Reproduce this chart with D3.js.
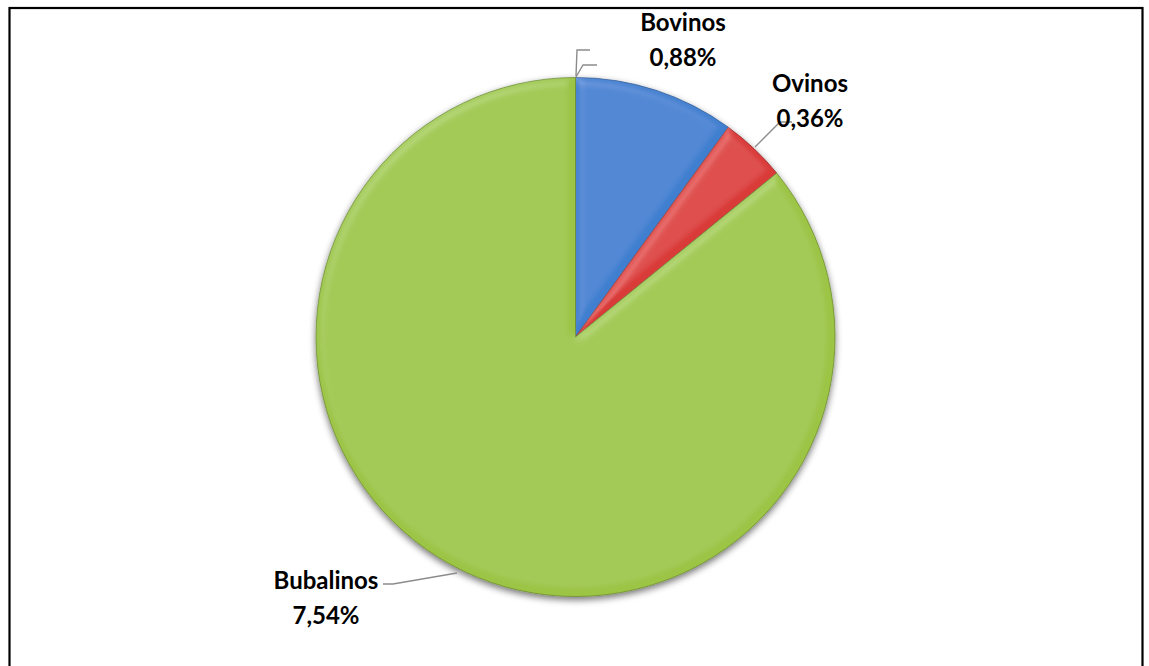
<!DOCTYPE html>
<html>
<head>
<meta charset="utf-8">
<script src="https://cdn.jsdelivr.net/npm/d3@7"></script>
<style>
  body { margin: 0; background: #fff; }
  text { font-family: Lato, "Open Sans", sans-serif; font-weight: bold; fill: #000; }
</style>
</head>
<body>
<svg id="chart"></svg>
<script>
const categories = ["Bovinos", "Ovinos", "Bubalinos"];
const values = [0.88, 0.36, 7.54];
const labels = ["0,88%", "0,36%", "7,54%"];
const colors = ["#3f7fcf", "#d93a38", "#9cc445"];
const edgeColors = ["#2c5d99", "#9a2a28", "#6f8f2c"];

const width = 1149, height = 666;
const cx = 575.5, cy = 337, radius = 259.5;

const svg = d3.select("#chart")
    .attr("width", width)
    .attr("height", height);

// frame
svg.append("rect")
    .attr("x", 9.5).attr("y", 8)
    .attr("width", 1133).attr("height", 680)
    .attr("fill", "none")
    .attr("stroke", "#000")
    .attr("stroke-width", 2.2);

const defs = svg.append("defs");

// soft shadow under the pie
const shadow = defs.append("filter").attr("id", "shadow")
    .attr("x", "-10%").attr("y", "-10%").attr("width", "120%").attr("height", "120%");
shadow.append("feGaussianBlur").attr("in", "SourceAlpha").attr("stdDeviation", 3.5).attr("result", "b");
shadow.append("feOffset").attr("in", "b").attr("dx", 0).attr("dy", 3).attr("result", "o");
shadow.append("feComponentTransfer").attr("in", "o").attr("result", "s")
    .append("feFuncA").attr("type", "linear").attr("slope", 0.55);
const sm = shadow.append("feMerge");
sm.append("feMergeNode").attr("in", "s");
sm.append("feMergeNode").attr("in", "SourceGraphic");

// bevel on each slice
const bevel = defs.append("filter").attr("id", "bevel")
    .attr("x", "-5%").attr("y", "-5%").attr("width", "110%").attr("height", "110%");
bevel.append("feGaussianBlur").attr("in", "SourceAlpha").attr("stdDeviation", 5).attr("result", "blur");
bevel.append("feSpecularLighting")
    .attr("in", "blur").attr("surfaceScale", 4).attr("specularConstant", 0.5)
    .attr("specularExponent", 18).attr("lighting-color", "#ffffff").attr("result", "spec")
    .append("feDistantLight").attr("azimuth", 235).attr("elevation", 50);
bevel.append("feComposite").attr("in", "spec").attr("in2", "SourceAlpha")
    .attr("operator", "in").attr("result", "specIn");
bevel.append("feComposite").attr("in", "SourceGraphic").attr("in2", "specIn")
    .attr("operator", "arithmetic").attr("k1", 0).attr("k2", 1).attr("k3", 0.22).attr("k4", 0);

const pie = d3.pie().sort(null).value(d => d)(values);
const arc = d3.arc().innerRadius(0).outerRadius(radius);

const g = svg.append("g")
    .attr("transform", `translate(${cx},${cy})`)
    .attr("filter", "url(#shadow)");

g.selectAll("path.slice")
    .data(pie)
    .join("path")
    .attr("class", "slice")
    .attr("d", arc)
    .attr("fill", (d, i) => colors[i])
    .attr("stroke", (d, i) => edgeColors[i])
    .attr("stroke-width", 0.8)
    .attr("filter", "url(#bevel)");

// label positions (centre of the two-line label) and leader lines
const labelPos = [[683, 23], [810, 84], [326, 581]];
const leaders = [
    null,
    [[755, 147], [780, 122], [792, 122]],
    [[457, 573], [393, 584], [383, 584]]
];
// empty leaders for zero-valued categories at the top of the pie
const emptyLeaders = [
    [[576, 76], [577, 50], [590, 50]],
    [[576, 77], [583, 65], [597, 65]]
];

const line = d3.line();
leaders.concat(emptyLeaders).forEach(p => {
    if (!p) return;
    svg.append("path")
        .attr("d", line(p))
        .attr("fill", "none")
        .attr("stroke", "#8c8c8c")
        .attr("stroke-width", 1.4);
});

categories.forEach((c, i) => {
    const t = svg.append("text")
        .attr("text-anchor", "middle")
        .attr("font-size", 24)
        .attr("x", labelPos[i][0])
        .attr("y", labelPos[i][1] + 8);
    t.append("tspan").attr("x", labelPos[i][0]).text(c);
    t.append("tspan").attr("x", labelPos[i][0]).attr("dy", 35).text(labels[i]);
});
</script>
</body>
</html>
